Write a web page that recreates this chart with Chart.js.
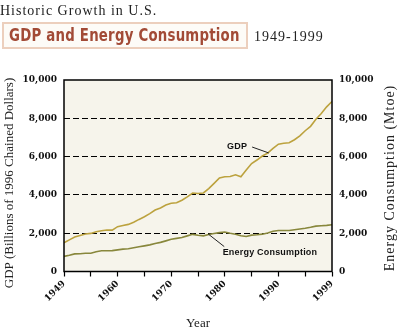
<!DOCTYPE html>
<html>
<head>
<meta charset="utf-8">
<script src="https://cdn.jsdelivr.net/npm/chart.js@4/dist/chart.umd.min.js"></script>
<style>
body { margin: 0; background: #fff; }
#wrap { position: relative; width: 400px; height: 334px; overflow: hidden; }
#chart { position: absolute; left: 0; top: 0; }
.kicker { position: absolute; left: 0; top: 3px; font: 14px "Liberation Serif", serif; letter-spacing: 1px; color: #222; }
.banner { position: absolute; left: 2px; top: 22px; width: 242px; height: 23px; border: 2px solid #eccfbd; background: #fdfbf7; }
.banner span { position: absolute; left: 5px; top: 0px; display: inline-block; font: bold 18px "DejaVu Sans", sans-serif; color: #a24a36; letter-spacing: 0.3px; white-space: nowrap; transform: scaleX(0.74); transform-origin: 0 0; }
.range { position: absolute; left: 254px; top: 29px; font: 14px "Liberation Serif", serif; letter-spacing: 1px; color: #222; }
</style>
</head>
<body>
<div id="wrap">
  <canvas id="chart" width="400" height="334"></canvas>
  <div class="kicker">Historic Growth in U.S.</div>
  <div class="banner"><span>GDP and Energy Consumption</span></div>
  <div class="range">1949-1999</div>
</div>
<script>
const years = [];
for (let y = 1949; y <= 1999; y++) years.push(y);

// GDP, billions of 1996 chained dollars
const gdp = [1500, 1650, 1800, 1880, 1960, 1990, 2080, 2130, 2170, 2160,
             2340, 2400, 2460, 2570, 2720, 2860, 3020, 3210, 3320, 3470,
             3560, 3590, 3720, 3900, 4100, 4070, 4100, 4330, 4600, 4880,
             4950, 4960, 5050, 4950, 5300, 5640, 5820, 6030, 6180, 6430,
             6650, 6700, 6720, 6880, 7080, 7350, 7580, 7950, 8250, 8600, 8880];

// Energy consumption, Mtoe
const energy = [790, 850, 920, 930, 950, 950, 1030, 1080, 1080, 1090,
                1130, 1170, 1190, 1240, 1290, 1340, 1390, 1460, 1520, 1600,
                1680, 1730, 1780, 1860, 1940, 1890, 1860, 1930, 1980, 2030,
                2060, 2000, 1950, 1870, 1830, 1900, 1920, 1950, 2010, 2100,
                2140, 2140, 2140, 2180, 2220, 2260, 2310, 2370, 2390, 2410, 2440];

const xTickValues = [1949, 1954, 1959, 1964, 1969, 1974, 1979, 1984, 1989, 1994, 1999];
const xTickLabels = ['1949', '', '1960', '', '1970', '', '1980', '', '1990', '', '1999'];
const yTicks = [0, 2000, 4000, 6000, 8000, 10000];

const serif = '"DejaVu Serif", serif';

const decor = {
    id: 'decor',
    beforeDraw(chart) {
        const a = chart.chartArea;
        const ctx = chart.ctx;
        ctx.save();
        ctx.fillStyle = '#f6f4eb';
        ctx.fillRect(a.left, a.top, a.right - a.left, a.bottom - a.top);
        ctx.restore();
    },
    afterDatasetsDraw(chart) {
        const a = chart.chartArea;
        const ctx = chart.ctx;
        const x = chart.scales.x, y = chart.scales.y;
        ctx.save();
        ctx.strokeStyle = '#000';
        ctx.lineWidth = 1.5;
        ctx.strokeRect(a.left, a.top, a.right - a.left, a.bottom - a.top);

        // callouts
        ctx.fillStyle = '#111';
        ctx.font = 'bold 9px "Liberation Sans", Arial, sans-serif';
        ctx.letterSpacing = '0.2px';
        ctx.textBaseline = 'middle';
        ctx.textAlign = 'center';
        ctx.fillText('GDP', x.getPixelForValue(1981.3), y.getPixelForValue(6550));
        ctx.textAlign = 'left';
        ctx.fillText('Energy Consumption', x.getPixelForValue(1978.6), y.getPixelForValue(990));

        ctx.lineWidth = 1;
        ctx.strokeStyle = '#222';
        ctx.beginPath();
        ctx.moveTo(x.getPixelForValue(1984.1), y.getPixelForValue(6500));
        ctx.lineTo(x.getPixelForValue(1987.2), y.getPixelForValue(6190));
        ctx.moveTo(x.getPixelForValue(1975.9), y.getPixelForValue(1960));
        ctx.lineTo(x.getPixelForValue(1978.9), y.getPixelForValue(1300));
        ctx.stroke();
        ctx.restore();
    },
    afterDraw(chart) {
        const ctx = chart.ctx;
        ctx.save();
        ctx.fillStyle = '#222';
        ctx.textAlign = 'center';
        ctx.textBaseline = 'middle';
        ctx.font = '13px "Liberation Serif", serif';
        ctx.translate(10, 183);
        ctx.rotate(-Math.PI / 2);
        ctx.fillText('GDP (Billions of 1996 Chained Dollars)', 0, 0);
        ctx.restore();

        ctx.save();
        ctx.fillStyle = '#222';
        ctx.textAlign = 'center';
        ctx.textBaseline = 'middle';
        ctx.font = '14px "Liberation Serif", serif';
        ctx.letterSpacing = '1px';
        ctx.translate(390, 178);
        ctx.rotate(-Math.PI / 2);
        ctx.fillText('Energy Consumption (Mtoe)', 0, 0);
        ctx.restore();
    }
};

const ctx = document.getElementById('chart').getContext('2d');
new Chart(ctx, {
    type: 'line',
    data: {
        datasets: [
            {
                label: 'GDP',
                data: years.map((yr, i) => ({ x: yr, y: gdp[i] })),
                borderColor: '#bca23e',
                borderWidth: 1.6,
                pointRadius: 0,
                tension: 0,
                yAxisID: 'y'
            },
            {
                label: 'Energy Consumption',
                data: years.map((yr, i) => ({ x: yr, y: energy[i] })),
                borderColor: '#88873c',
                borderWidth: 1.6,
                pointRadius: 0,
                tension: 0,
                yAxisID: 'y2'
            }
        ]
    },
    options: {
        responsive: false,
        animation: false,
        layout: { padding: { top: 80, left: 0, right: 0, bottom: 0 } },
        plugins: { legend: { display: false }, tooltip: { enabled: false } },
        scales: {
            x: {
                type: 'linear',
                min: 1949,
                max: 1999,
                afterBuildTicks: (axis) => { axis.ticks = xTickValues.map(v => ({ value: v })); },
                afterFit: (axis) => { axis.height = 62.5; },
                border: { display: false },
                grid: { drawOnChartArea: false, drawTicks: true, tickLength: 5, tickColor: '#000', tickWidth: 1.2 },
                ticks: {
                    autoSkip: false,
                    minRotation: 45,
                    maxRotation: 45,
                    padding: 2,
                    color: '#111',
                    font: { family: serif, weight: 'bold', size: 9 },
                    callback: (v, i) => xTickLabels[i]
                },
                title: {
                    display: true,
                    text: 'Year',
                    color: '#222',
                    font: { family: '"Liberation Serif", serif', size: 13 },
                    padding: { top: 0, bottom: 3 }
                }
            },
            y: {
                position: 'left',
                min: 0,
                max: 10000,
                afterBuildTicks: (axis) => { axis.ticks = yTicks.map(v => ({ value: v })); },
                afterFit: (axis) => { axis.width = 64; },
                border: { display: false, dash: [6, 3] },
                grid: {
                    drawTicks: false,
                    color: (c) => (c.tick && (c.tick.value === 0 || c.tick.value === 10000)) ? 'rgba(0,0,0,0)' : '#000',
                    lineWidth: 1
                },
                ticks: {
                    padding: 7,
                    color: '#111',
                    font: { family: serif, weight: 'bold', size: 9 },
                    callback: (v) => v.toLocaleString('en-US')
                }
            },
            y2: {
                position: 'right',
                min: 0,
                max: 10000,
                afterBuildTicks: (axis) => { axis.ticks = yTicks.map(v => ({ value: v })); },
                afterFit: (axis) => { axis.width = 68; },
                border: { display: false },
                grid: { drawOnChartArea: false, drawTicks: false },
                ticks: {
                    padding: 7,
                    color: '#111',
                    font: { family: serif, weight: 'bold', size: 9 },
                    callback: (v) => v.toLocaleString('en-US')
                }
            }
        }
    },
    plugins: [decor]
});
</script>
</body>
</html>
